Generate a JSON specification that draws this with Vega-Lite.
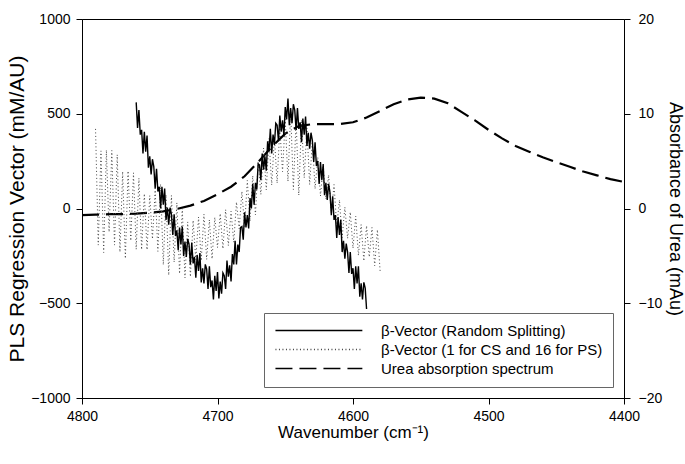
{
  "$schema": "https://vega.github.io/schema/vega-lite/v6.json",
  "width": 542,
  "height": 379,
  "autosize": {"type": "none"},
  "padding": {"left": 82, "top": 19, "right": 61, "bottom": 66},
  "background": "white",
  "config": {
    "font": "Liberation Sans",
    "view": {"stroke": "black", "strokeWidth": 1},
    "axis": {
      "grid": false,
      "domainColor": "black",
      "tickColor": "black",
      "labelColor": "black",
      "titleColor": "black",
      "labelFont": "Liberation Sans",
      "titleFont": "Liberation Sans",
      "labelFontSize": 14,
      "titleFontWeight": "normal",
      "tickSize": 6,
      "labelFlush": false,
      "labelOverlap": false
    },
    "legend": {
      "labelFont": "Liberation Sans",
      "labelFontSize": 15,
      "labelColor": "black",
      "labelLimit": 400
    }
  },
  "datasets": {
    "dashed": [
      {"w": 4800, "v": -0.7}, {"w": 4790, "v": -0.65}, {"w": 4780, "v": -0.6}, {"w": 4770, "v": -0.6},
      {"w": 4760, "v": -0.55}, {"w": 4750, "v": -0.45}, {"w": 4740, "v": -0.3}, {"w": 4730, "v": -0.05},
      {"w": 4720, "v": 0.3}, {"w": 4710, "v": 0.8}, {"w": 4700, "v": 1.5}, {"w": 4690, "v": 2.3},
      {"w": 4680, "v": 3.4}, {"w": 4670, "v": 4.9}, {"w": 4660, "v": 6.5}, {"w": 4650, "v": 7.9},
      {"w": 4640, "v": 8.7}, {"w": 4630, "v": 8.9}, {"w": 4620, "v": 8.9}, {"w": 4610, "v": 8.9},
      {"w": 4600, "v": 9.1}, {"w": 4590, "v": 9.6}, {"w": 4580, "v": 10.3}, {"w": 4570, "v": 11.0},
      {"w": 4560, "v": 11.5}, {"w": 4550, "v": 11.7}, {"w": 4540, "v": 11.6}, {"w": 4530, "v": 11.1},
      {"w": 4520, "v": 10.2}, {"w": 4510, "v": 9.3}, {"w": 4500, "v": 8.3}, {"w": 4490, "v": 7.4},
      {"w": 4480, "v": 6.6}, {"w": 4470, "v": 6.0}, {"w": 4460, "v": 5.4}, {"w": 4450, "v": 4.9},
      {"w": 4440, "v": 4.4}, {"w": 4430, "v": 3.9}, {"w": 4420, "v": 3.5}, {"w": 4410, "v": 3.1},
      {"w": 4400, "v": 2.8}
    ],
    "dotted": [
      {"w": 4790, "v": 420}, {"w": 4788, "v": -193}, {"w": 4786, "v": 304}, {"w": 4784, "v": -232},
      {"w": 4782, "v": 308}, {"w": 4780, "v": -124}, {"w": 4778, "v": 306}, {"w": 4776, "v": -193},
      {"w": 4774, "v": 284}, {"w": 4772, "v": -230}, {"w": 4770, "v": 195}, {"w": 4768, "v": -264},
      {"w": 4766, "v": 198}, {"w": 4764, "v": -170}, {"w": 4762, "v": 188}, {"w": 4760, "v": -216},
      {"w": 4758, "v": 160}, {"w": 4756, "v": -217}, {"w": 4754, "v": 78}, {"w": 4752, "v": -218},
      {"w": 4750, "v": 68}, {"w": 4748, "v": -161}, {"w": 4746, "v": 97}, {"w": 4744, "v": -226},
      {"w": 4742, "v": 128}, {"w": 4740, "v": -297}, {"w": 4738, "v": 73}, {"w": 4736, "v": -352},
      {"w": 4734, "v": 69}, {"w": 4732, "v": -283}, {"w": 4730, "v": 30}, {"w": 4728, "v": -344},
      {"w": 4726, "v": 0}, {"w": 4724, "v": -366}, {"w": 4722, "v": -71}, {"w": 4720, "v": -360},
      {"w": 4718, "v": -63}, {"w": 4716, "v": -270}, {"w": 4714, "v": -45}, {"w": 4712, "v": -275},
      {"w": 4710, "v": -30}, {"w": 4708, "v": -269}, {"w": 4706, "v": -60}, {"w": 4704, "v": -266},
      {"w": 4702, "v": -47}, {"w": 4700, "v": -206}, {"w": 4698, "v": -27}, {"w": 4696, "v": -212},
      {"w": 4694, "v": -6}, {"w": 4692, "v": -196}, {"w": 4690, "v": -15}, {"w": 4688, "v": -178},
      {"w": 4686, "v": 34}, {"w": 4684, "v": -107}, {"w": 4682, "v": 90}, {"w": 4680, "v": -96},
      {"w": 4678, "v": 148}, {"w": 4676, "v": -67}, {"w": 4674, "v": 173}, {"w": 4672, "v": -34},
      {"w": 4670, "v": 249}, {"w": 4668, "v": 74}, {"w": 4666, "v": 319}, {"w": 4664, "v": 98},
      {"w": 4662, "v": 370}, {"w": 4660, "v": 124}, {"w": 4658, "v": 374}, {"w": 4656, "v": 134},
      {"w": 4654, "v": 425}, {"w": 4652, "v": 195}, {"w": 4650, "v": 471}, {"w": 4648, "v": 143},
      {"w": 4646, "v": 512}, {"w": 4644, "v": 100}, {"w": 4642, "v": 470}, {"w": 4640, "v": 70},
      {"w": 4638, "v": 467}, {"w": 4636, "v": 162}, {"w": 4634, "v": 424}, {"w": 4632, "v": 126},
      {"w": 4630, "v": 360}, {"w": 4628, "v": 104}, {"w": 4626, "v": 270}, {"w": 4624, "v": 66},
      {"w": 4622, "v": 223}, {"w": 4620, "v": 50}, {"w": 4618, "v": 177}, {"w": 4616, "v": -26},
      {"w": 4614, "v": 126}, {"w": 4612, "v": -92}, {"w": 4610, "v": 45}, {"w": 4608, "v": -154},
      {"w": 4606, "v": 7}, {"w": 4604, "v": -158}, {"w": 4602, "v": -19}, {"w": 4600, "v": -210},
      {"w": 4598, "v": -40}, {"w": 4596, "v": -248}, {"w": 4594, "v": -85}, {"w": 4592, "v": -277},
      {"w": 4590, "v": -91}, {"w": 4588, "v": -256}, {"w": 4586, "v": -100}, {"w": 4584, "v": -302},
      {"w": 4582, "v": -112}, {"w": 4580, "v": -329}
    ],
    "solid": [
      {"w": 4760, "v": 560}, {"w": 4759, "v": 425}, {"w": 4758, "v": 520}, {"w": 4757, "v": 390},
      {"w": 4756, "v": 415}, {"w": 4755, "v": 290}, {"w": 4754, "v": 405}, {"w": 4753, "v": 300},
      {"w": 4752, "v": 385}, {"w": 4751, "v": 215}, {"w": 4750, "v": 275}, {"w": 4749, "v": 180},
      {"w": 4748, "v": 260}, {"w": 4747, "v": 220}, {"w": 4746, "v": 105}, {"w": 4745, "v": 210},
      {"w": 4744, "v": 90}, {"w": 4743, "v": 115}, {"w": 4742, "v": 0}, {"w": 4741, "v": 115},
      {"w": 4740, "v": 20}, {"w": 4739, "v": 105}, {"w": 4738, "v": -60}, {"w": 4737, "v": 5},
      {"w": 4736, "v": -85}, {"w": 4735, "v": 5}, {"w": 4734, "v": -30}, {"w": 4733, "v": -140},
      {"w": 4732, "v": -30}, {"w": 4731, "v": -145}, {"w": 4730, "v": -115}, {"w": 4729, "v": -220},
      {"w": 4728, "v": -100}, {"w": 4727, "v": -190}, {"w": 4726, "v": -95}, {"w": 4725, "v": -250},
      {"w": 4724, "v": -175}, {"w": 4723, "v": -255}, {"w": 4722, "v": -160}, {"w": 4721, "v": -190},
      {"w": 4720, "v": -295}, {"w": 4719, "v": -180}, {"w": 4718, "v": -290}, {"w": 4717, "v": -255},
      {"w": 4716, "v": -365}, {"w": 4715, "v": -245}, {"w": 4714, "v": -330}, {"w": 4713, "v": -235},
      {"w": 4712, "v": -390}, {"w": 4711, "v": -315}, {"w": 4710, "v": -395}, {"w": 4709, "v": -295},
      {"w": 4708, "v": -320}, {"w": 4707, "v": -425}, {"w": 4706, "v": -305}, {"w": 4705, "v": -415},
      {"w": 4704, "v": -380}, {"w": 4703, "v": -480}, {"w": 4702, "v": -355}, {"w": 4701, "v": -435},
      {"w": 4700, "v": -335}, {"w": 4699, "v": -475}, {"w": 4698, "v": -385}, {"w": 4697, "v": -450},
      {"w": 4696, "v": -340}, {"w": 4695, "v": -355}, {"w": 4694, "v": -425}, {"w": 4693, "v": -275},
      {"w": 4692, "v": -360}, {"w": 4691, "v": -300}, {"w": 4690, "v": -385}, {"w": 4689, "v": -240},
      {"w": 4688, "v": -295}, {"w": 4687, "v": -170}, {"w": 4686, "v": -295}, {"w": 4685, "v": -190},
      {"w": 4684, "v": -230}, {"w": 4683, "v": -100}, {"w": 4682, "v": -95}, {"w": 4681, "v": -165},
      {"w": 4680, "v": -20}, {"w": 4679, "v": -100}, {"w": 4678, "v": -35}, {"w": 4677, "v": -105},
      {"w": 4676, "v": 55}, {"w": 4675, "v": 0}, {"w": 4674, "v": 130}, {"w": 4673, "v": 20},
      {"w": 4672, "v": 135}, {"w": 4671, "v": 100}, {"w": 4670, "v": 235}, {"w": 4669, "v": 230},
      {"w": 4668, "v": 150}, {"w": 4667, "v": 290}, {"w": 4666, "v": 205}, {"w": 4665, "v": 275},
      {"w": 4664, "v": 200}, {"w": 4663, "v": 355}, {"w": 4662, "v": 300}, {"w": 4661, "v": 420},
      {"w": 4660, "v": 290}, {"w": 4659, "v": 390}, {"w": 4658, "v": 335}, {"w": 4657, "v": 450},
      {"w": 4656, "v": 440}, {"w": 4655, "v": 355}, {"w": 4654, "v": 490}, {"w": 4653, "v": 405},
      {"w": 4652, "v": 465}, {"w": 4651, "v": 385}, {"w": 4650, "v": 535}, {"w": 4649, "v": 470},
      {"w": 4648, "v": 580}, {"w": 4647, "v": 440}, {"w": 4646, "v": 530}, {"w": 4645, "v": 450},
      {"w": 4644, "v": 550}, {"w": 4643, "v": 520}, {"w": 4642, "v": 415}, {"w": 4641, "v": 530},
      {"w": 4640, "v": 420}, {"w": 4639, "v": 455}, {"w": 4638, "v": 350}, {"w": 4637, "v": 475},
      {"w": 4636, "v": 390}, {"w": 4635, "v": 485}, {"w": 4634, "v": 330}, {"w": 4633, "v": 400},
      {"w": 4632, "v": 315}, {"w": 4631, "v": 400}, {"w": 4630, "v": 360}, {"w": 4629, "v": 245},
      {"w": 4628, "v": 350}, {"w": 4627, "v": 225}, {"w": 4626, "v": 250}, {"w": 4625, "v": 130},
      {"w": 4624, "v": 245}, {"w": 4623, "v": 150}, {"w": 4622, "v": 235}, {"w": 4621, "v": 70},
      {"w": 4620, "v": 135}, {"w": 4619, "v": 45}, {"w": 4618, "v": 130}, {"w": 4617, "v": 85},
      {"w": 4616, "v": -35}, {"w": 4615, "v": 65}, {"w": 4614, "v": -60}, {"w": 4613, "v": -35},
      {"w": 4612, "v": -155}, {"w": 4611, "v": -45}, {"w": 4610, "v": -140}, {"w": 4609, "v": -60},
      {"w": 4608, "v": -230}, {"w": 4607, "v": -170}, {"w": 4606, "v": -265}, {"w": 4605, "v": -185},
      {"w": 4604, "v": -230}, {"w": 4603, "v": -340}, {"w": 4602, "v": -230}, {"w": 4601, "v": -345},
      {"w": 4600, "v": -315}, {"w": 4599, "v": -425}, {"w": 4598, "v": -305}, {"w": 4597, "v": -395},
      {"w": 4596, "v": -305}, {"w": 4595, "v": -465}, {"w": 4594, "v": -395}, {"w": 4593, "v": -480},
      {"w": 4592, "v": -390}, {"w": 4591, "v": -420}, {"w": 4590, "v": -530}
    ]
  },
  "resolve": {"scale": {"y": "independent"}},
  "layer": [
    {
      "data": {"name": "dashed"},
      "transform": [{"calculate": "'Urea absorption spectrum'", "as": "series"}],
      "mark": {"type": "line", "strokeWidth": 2.2, "clip": true},
      "encoding": {
        "x": {"field": "w", "type": "quantitative"},
        "y": {
          "field": "v", "type": "quantitative",
          "scale": {"domain": [-20, 20]},
          "axis": {"orient": "right", "values": [-20, -10, 0, 10, 20], "format": "d", "title": "Absorbance of Urea (mAu)", "titleFontSize": 18, "labelPadding": 8, "titlePadding": 4}
        },
        "strokeDash": {"field": "series", "type": "nominal"},
        "color": {"field": "series", "type": "nominal"}
      }
    },
    {
      "data": {"name": "dotted"},
      "transform": [{"calculate": "'β-Vector (1 for CS and 16 for PS)'", "as": "series"}],
      "mark": {"type": "line", "strokeWidth": 1, "clip": true},
      "encoding": {
        "x": {"field": "w", "type": "quantitative"},
        "y": {"field": "v", "type": "quantitative", "scale": {"domain": [-1000, 1000]}, "axis": null},
        "strokeDash": {"field": "series", "type": "nominal"},
        "color": {"field": "series", "type": "nominal"}
      }
    },
    {
      "data": {"name": "solid"},
      "transform": [{"calculate": "'β-Vector (Random Splitting)'", "as": "series"}],
      "mark": {"type": "line", "strokeWidth": 1.4, "clip": true},
      "encoding": {
        "x": {
          "field": "w", "type": "quantitative",
          "scale": {"domain": [4400, 4800], "reverse": true, "nice": false},
          "axis": {"values": [4800, 4700, 4600, 4500, 4400], "format": "d", "title": "Wavenumber (cm⁻¹)", "titleFontSize": 17, "labelPadding": 5, "titlePadding": 1}
        },
        "y": {
          "field": "v", "type": "quantitative",
          "scale": {"domain": [-1000, 1000]},
          "axis": {"orient": "left", "values": [-1000, -500, 0, 500, 1000], "format": "d", "title": "PLS Regression Vector (mM/AU)", "titleFontSize": 21, "labelPadding": 6, "titlePadding": 3}
        },
        "strokeDash": {
          "field": "series", "type": "nominal",
          "scale": {
            "domain": ["β-Vector (Random Splitting)", "β-Vector (1 for CS and 16 for PS)", "Urea absorption spectrum"],
            "range": [[1, 0], [1, 2.5], [17, 7]]
          },
          "legend": {
            "title": null,
            "orient": "bottom-right",
            "offset": 11,
            "padding": 10,
            "strokeColor": "#666666",
            "fillColor": "white",
            "symbolType": "M-1.1,0H14.7",
            "symbolSize": 121,
            "symbolStrokeWidth": 1.6,
            "labelOffset": 92,
            "rowPadding": 3
          }
        },
        "color": {
          "field": "series", "type": "nominal",
          "scale": {
            "domain": ["β-Vector (Random Splitting)", "β-Vector (1 for CS and 16 for PS)", "Urea absorption spectrum"],
            "range": ["#000000", "#444444", "#000000"]
          }
        }
      }
    }
  ]
}
